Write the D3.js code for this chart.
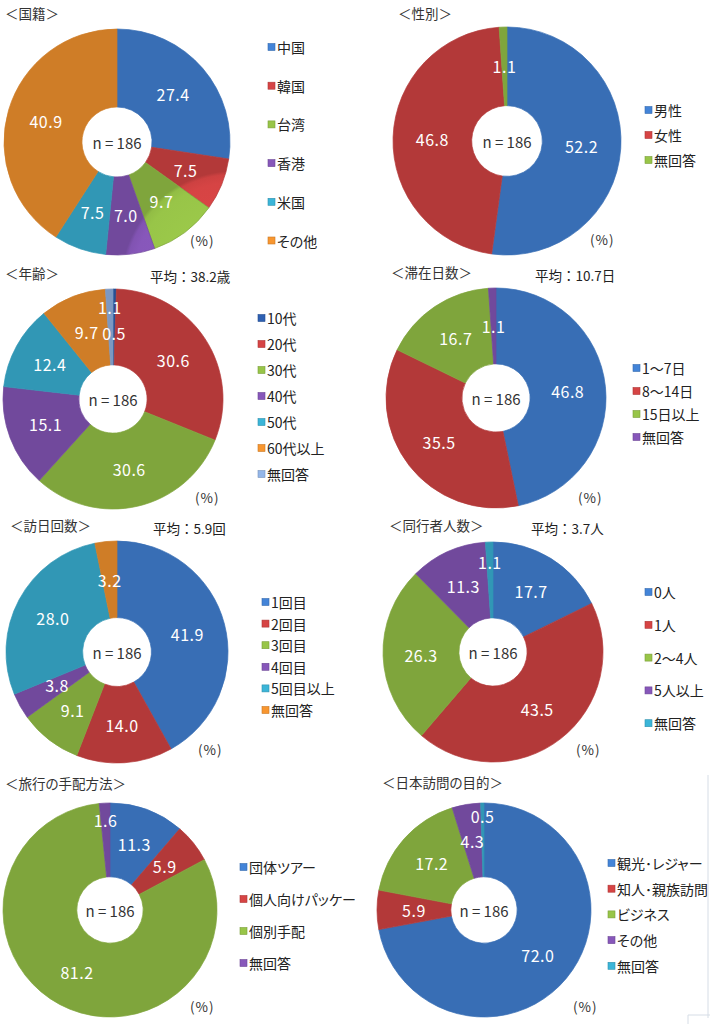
<!DOCTYPE html>
<html><head><meta charset="utf-8">
<script src="https://cdn.jsdelivr.net/npm/d3@7/dist/d3.min.js"></script>
<style>
html,body{margin:0;padding:0;background:#fff;}
svg{display:block;font-family:"Noto Sans CJK JP","Noto Sans",sans-serif;font-feature-settings:"palt";}
</style></head>
<body>
<svg id="chart" width="710" height="1024"></svg>
<script>
// ---- data ----
const nationalityCategories = ["中国","韓国","台湾","香港","米国","その他"];
const nationalityValues = [27.4,7.5,9.7,7.0,7.5,40.9];
const genderCategories = ["男性","女性","無回答"];
const genderValues = [52.2,46.8,1.1];
const ageCategories = ["10代","20代","30代","40代","50代","60代以上","無回答"];
const ageValues = [0.5,30.6,30.6,15.1,12.4,9.7,1.1];
const stayCategories = ["1～7日","8～14日","15日以上","無回答"];
const stayValues = [46.8,35.5,16.7,1.1];
const visitCategories = ["1回目","2回目","3回目","4回目","5回目以上","無回答"];
const visitValues = [41.9,14.0,9.1,3.8,28.0,3.2];
const companionCategories = ["0人","1人","2～4人","5人以上","無回答"];
const companionValues = [17.7,43.5,26.3,11.3,1.1];
const arrangementCategories = ["団体ツアー","個人向けパッケージ","個別手配","無回答"];
const arrangementValues = [11.3,5.9,81.2,1.6];
const purposeCategories = ["観光･レジャー","知人･親族訪問","ビジネス","その他","無回答"];
const purposeValues = [72.0,5.9,17.2,4.3,0.5];
const chartTitles = ["＜国籍＞","＜性別＞","＜年齢＞","＜滞在日数＞","＜訪日回数＞","＜同行者人数＞","＜旅行の手配方法＞","＜日本訪問の目的＞"];
const averageTexts = [null,null,"平均：38.2歳","平均：10.7日","平均：5.9回","平均：3.7人",null,null];
const sampleText = "n = 186";
const unitText = "(%)";

// ---- styles ----
const BLUE="#4384D8", RED="#D64444", GREEN="#98C548", PURPLE="#8757BA", CYAN="#3BB5D8", ORANGE="#F8962F";
const standardPalette = [BLUE,RED,GREEN,PURPLE,CYAN,ORANGE];
const agePalette = ["#2E60B2",RED,GREEN,PURPLE,CYAN,ORANGE,"#94B6E8"];

const layouts = [
  {cats:nationalityCategories, vals:nationalityValues, pal:standardPalette, cx:117, cy:142, R:113, lx:268, ly:47, ls:38.7, tx:5, ty:13, px:190, py:240},
  {cats:genderCategories, vals:genderValues, pal:standardPalette, cx:507, cy:141, R:114, lx:645, ly:110, ls:25, tx:398, ty:13, px:590, py:239},
  {cats:ageCategories, vals:ageValues, pal:agePalette, cx:113, cy:399, R:110, lx:258, ly:318, ls:26, tx:5, ty:273, ax:150, ay:276, px:195, py:497},
  {cats:stayCategories, vals:stayValues, pal:standardPalette, cx:496, cy:398, R:110, lx:633, ly:368, ls:23, tx:391, ty:272, ax:535, ay:275, px:578, py:497},
  {cats:visitCategories, vals:visitValues, pal:standardPalette, cx:117, cy:652, R:111, lx:262, ly:602, ls:21.6, tx:10, ty:525, ax:153, ay:528, px:198, py:749},
  {cats:companionCategories, vals:companionValues, pal:standardPalette, cx:493, cy:652, R:110, lx:645, ly:592, ls:32.8, tx:389, ty:525, ax:531, ay:528, px:576, py:749},
  {cats:arrangementCategories, vals:arrangementValues, pal:standardPalette, cx:110, cy:910, R:107, lx:240, ly:867, ls:32, tx:5, ty:783, px:190, py:1006, clip:true},
  {cats:purposeCategories, vals:purposeValues, pal:standardPalette, cx:484, cy:910, R:107, lx:608, ly:863, ls:25.7, tx:382, ty:782, px:573, py:1006}
];

const svg = d3.select("#chart");
const defs = svg.append("defs");
defs.append("clipPath").attr("id","leftcol").append("rect").attr("x",0).attr("y",0).attr("width",355).attr("height",1024);

const pie = d3.pie().sort(null).value(d=>d);
const fmt = d3.format(".1f");

layouts.forEach((L, ci) => {
  const g = svg.append("g");
  const inner = L.R*0.31;
  const arc = d3.arc().innerRadius(inner).outerRadius(L.R);
  const arcs = pie(L.vals);
  const f = inner/L.R;

  L.pal.forEach((c,i)=>{
    const gr = defs.append("radialGradient").attr("id",`g${ci}_${i}`)
      .attr("gradientUnits","userSpaceOnUse").attr("cx",L.cx).attr("cy",L.cy).attr("r",L.R);
    gr.append("stop").attr("offset",f).attr("stop-color",d3.color(c).brighter(0.7));
    gr.append("stop").attr("offset",f+0.06).attr("stop-color",d3.color(c).brighter(0.1));
    gr.append("stop").attr("offset",0.9).attr("stop-color",c);
    gr.append("stop").attr("offset",0.97).attr("stop-color",d3.color(c).darker(0.12));
    gr.append("stop").attr("offset",1).attr("stop-color",d3.color(c).darker(0.5));
  });

  const pg = g.append("g").attr("transform",`translate(${L.cx},${L.cy})`);
  pg.selectAll("path").data(arcs).join("path")
    .attr("d",arc)
    .attr("fill",(d,i)=>`url(#g${ci}_${i})`)
    .attr("stroke",(d,i)=>d3.color(L.pal[i]).darker(0.5))
    .attr("stroke-width",0.7);

  const labels = pg.selectAll("text.val").data(arcs).join("text").attr("class","val")
    .attr("text-anchor","middle").attr("dominant-baseline","central")
    .attr("fill","#fff").attr("font-size",16).attr("letter-spacing",0.5)
    .text(d=>fmt(d.data));

  // label placement: centroid of ring, nudged radially on collision
  const mid = (inner+L.R)/2;
  const widths = labels.nodes().map(n=>n.getComputedTextLength());
  const hgt = 23, pad = 1;
  const order = arcs.map((d,i)=>i).sort((a,b)=>L.vals[b]-L.vals[a]);
  const placed = [];
  const pos = [];
  order.forEach(i=>{
    const d = arcs[i];
    const a = (d.startAngle+d.endAngle)/2;
    const w = widths[i];
    let best = null;
    for(let k=0;k<=60;k++){
      const dr = (k%2===1?1:-1)*Math.ceil(k/2)*2;
      const r = mid+dr;
      if(r<inner+6 || r>L.R-6) continue;
      const x = Math.sin(a)*r, y = -Math.cos(a)*r;
      const hit = placed.some(p=>Math.abs(p.x-x) < (p.w+w)/2+pad && Math.abs(p.y-y) < hgt+pad);
      if(!hit){best={x,y,w};break;}
    }
    if(!best) best={x:Math.sin(a)*mid,y:-Math.cos(a)*mid,w};
    placed.push(best); pos[i]=best;
  });
  labels.attr("x",(d,i)=>pos[i].x).attr("y",(d,i)=>pos[i].y);

  pg.append("text").attr("text-anchor","middle").attr("dominant-baseline","central")
    .attr("fill","#333").attr("font-size",15).text(sampleText);

  g.append("text").attr("x",L.tx).attr("y",L.ty).attr("dominant-baseline","central")
    .attr("font-size",13.5).attr("fill","#333").text(chartTitles[ci]);
  if(averageTexts[ci]) g.append("text").attr("x",L.ax).attr("y",L.ay).attr("dominant-baseline","central")
    .attr("font-size",13.5).attr("fill","#222").style("font-feature-settings","normal").text(averageTexts[ci]);
  g.append("text").attr("x",L.px).attr("y",L.py).attr("dominant-baseline","central")
    .attr("font-size",13.5).attr("fill","#333").attr("letter-spacing",1).text(unitText);

  const lg = g.append("g");
  if(L.clip) lg.attr("clip-path","url(#leftcol)");
  const items = lg.selectAll("g").data(L.cats).join("g")
    .attr("transform",(d,i)=>`translate(${L.lx},${L.ly+i*L.ls})`);
  items.append("rect").attr("x",0).attr("y",-3.5).attr("width",7).attr("height",7)
    .attr("fill",(d,i)=>L.pal[i]).attr("stroke",(d,i)=>d3.color(L.pal[i]).darker(0.6)).attr("stroke-width",0.6);
  items.append("text").attr("x",9).attr("y",0).attr("dominant-baseline","central")
    .attr("font-size",14).attr("fill","#222").text(d=>d);
});

svg.append("line").attr("x1",708).attr("x2",708).attr("y1",775).attr("y2",1018).attr("stroke","#d6dde6").attr("stroke-width",1);
svg.append("path").attr("d","M688,1024 L688,1015 L710,1015").attr("fill","none").attr("stroke","#d6dde6").attr("stroke-width",1);
</script>
</body></html>
